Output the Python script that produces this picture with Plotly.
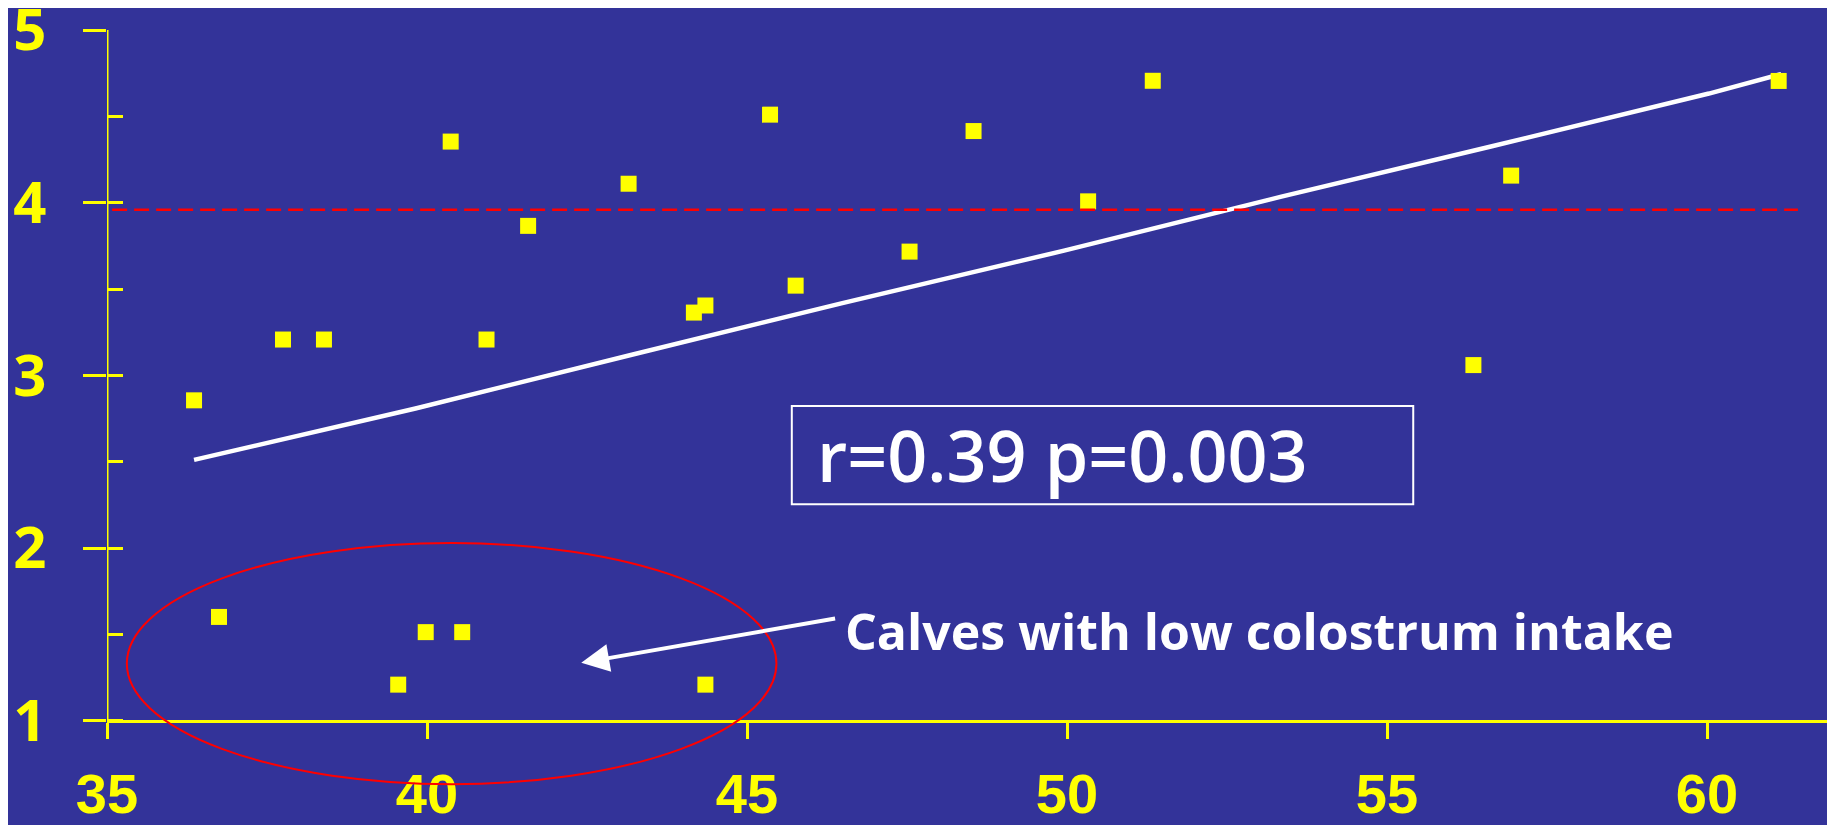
import plotly.graph_objects as go

# ---- data ----
intake_x = [36.36, 36.75, 37.75, 38.39, 39.55, 39.98, 40.37, 40.55, 40.93, 41.58,
            43.15, 44.17, 44.35, 44.35, 45.36, 45.76, 47.54, 48.54, 50.33, 51.34,
            56.35, 56.94, 61.12]
score_y = [2.856, 1.602, 3.208, 3.208, 1.21, 1.514, 4.354, 1.514, 3.208, 3.866,
           4.11, 3.364, 3.405, 1.21, 4.51, 3.52, 3.717, 4.415, 4.008, 4.706,
           3.06, 4.157, 4.705]

fit_x = [36.36, 39.82, 43.20, 46.49, 49.97, 53.35, 56.64, 60.03, 61.16]
fit_y = [2.511, 2.809, 3.120, 3.419, 3.724, 4.035, 4.327, 4.632, 4.745]

ref_level = 3.96
ref_x = [35.08, 61.42]

x_ticks = [35, 40, 45, 50, 55, 60]
y_ticks = [1, 2, 3, 4, 5]
y_minor = [1.5, 2.5, 3.5, 4.5]

stat_text = "r=0.39 p=0.003"
note_text = "Calves with low colostrum intake"

BG = "#333399"
YEL = "#FFFF00"

X_RANGE = [35, 62]
Y_RANGE = [0.6, 5]
Y_AXIS_BOTTOM = 0.9
X_AXIS_AT = 1

fig = go.Figure()

# dashed reference level (on overlay axis so its inside ticks are drawn)
fig.add_trace(go.Scatter(
    x=ref_x, y=[ref_level, ref_level], mode="lines",
    line=dict(color="#FF0000", width=2.5, dash="15px,7px"),
    yaxis="y2", hoverinfo="skip", showlegend=False))

# regression line
fig.add_trace(go.Scatter(
    x=fit_x, y=fit_y, mode="lines",
    line=dict(color="white", width=4.5),
    hoverinfo="skip", showlegend=False))

# data points
fig.add_trace(go.Scatter(
    x=intake_x, y=score_y, mode="markers",
    marker=dict(symbol="square", size=16, color=YEL, line=dict(width=0)),
    showlegend=False))

shapes = [
    # y axis line (stops just below 1)
    dict(type="line", xref="x", yref="y", x0=X_RANGE[0], x1=X_RANGE[0],
         y0=Y_AXIS_BOTTOM, y1=Y_RANGE[1], line=dict(color=YEL, width=3), layer="above"),
    # ellipse around low-intake calves
    dict(type="circle", xref="x", yref="y", x0=35.31, x1=45.46, y0=0.634, y1=2.03,
         line=dict(color="#FF0000", width=2)),
    # statistics box
    dict(type="rect", xref="x", yref="y", x0=45.70, x1=55.41, y0=2.255, y1=2.823,
         line=dict(color="white", width=2)),
]

annotations = [
    dict(x=46.06, y=2.539, xref="x", yref="y", text=stat_text, showarrow=False,
         xanchor="left", yanchor="middle",
         font=dict(family="Comic Sans MS, Open Sans", size=70, color="white", weight=600)),
    dict(x=46.5, y=1.52, xref="x", yref="y", text=note_text, showarrow=False,
         xanchor="left", yanchor="middle",
         font=dict(family="Comic Sans MS, Open Sans", size=50, color="white", weight="bold")),
    dict(x=42.41, y=1.336, xref="x", yref="y", ax=46.40, ay=1.594, axref="x", ayref="y",
         text="", showarrow=True, arrowhead=2, arrowsize=1.4, arrowwidth=4,
         arrowcolor="white"),
]

fig.update_layout(
    template="none",
    width=1835, height=825,
    paper_bgcolor=BG, plot_bgcolor=BG,
    margin=dict(l=99, r=8, t=22, b=43),
    shapes=shapes, annotations=annotations,
    xaxis=dict(
        range=X_RANGE, tickvals=x_ticks, ticktext=[str(v) for v in x_ticks],
        anchor="free", position=(X_AXIS_AT - Y_RANGE[0]) / (Y_RANGE[1] - Y_RANGE[0]),
        showline=True, linecolor=YEL, linewidth=3,
        ticks="outside", ticklen=16, tickwidth=3, tickcolor=YEL,
        tickfont=dict(family="Liberation Sans", size=56, color=YEL, weight="bold"),
        ticklabelstandoff=7, ticklabeloverflow="allow", automargin=False,
        showgrid=False, zeroline=False, fixedrange=True,
    ),
    yaxis=dict(
        range=Y_RANGE, tickvals=y_ticks, ticktext=[str(v) for v in y_ticks],
        showline=False,
        ticks="outside", ticklen=23, tickwidth=3, tickcolor=YEL,
        tickfont=dict(family="Comic Sans MS, Open Sans", size=58, color=YEL, weight="bold"),
        ticklabelstandoff=25, ticklabeloverflow="allow", automargin=False,
        showgrid=False, zeroline=False, fixedrange=True,
    ),
    yaxis2=dict(
        range=Y_RANGE, overlaying="y", side="left", anchor="x",
        tickvals=sorted(y_ticks + y_minor), showticklabels=False,
        ticks="inside", ticklen=16, tickwidth=3, tickcolor=YEL, automargin=False,
        showline=False, showgrid=False, zeroline=False, fixedrange=True,
    ),
)

fig.write_html("out.html")
